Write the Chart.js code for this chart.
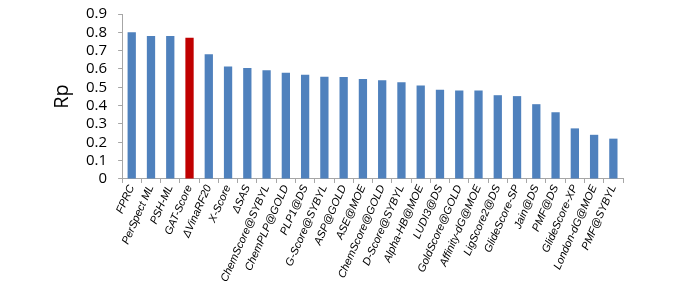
<!DOCTYPE html>
<html>
<head>
<meta charset="utf-8">
<script src="https://cdn.jsdelivr.net/npm/chart.js@4"></script>
<style>
  html, body { margin: 0; padding: 0; background: #fff; }
  #wrap { width: 677px; height: 303px; }
</style>
</head>
<body>
<div id="wrap"><canvas id="barChart"></canvas></div>
<script>
const methods = ['FPRC', 'PerSpect ML', 'PSH-ML', 'GAT-Score', '\u0394VinaRF20', 'X-Score', '\u0394SAS',
  'ChemScore@SYBYL', 'ChemPLP@GOLD', 'PLP1@DS', 'G-Score@SYBYL', 'ASP@GOLD', 'ASE@MOE',
  'ChemScore@GOLD', 'D-Score@SYBYL', 'Alpha-HB@MOE', 'LUDI3@DS', 'GoldScore@GOLD',
  'Affinity-dG@MOE', 'LigScore2@DS', 'GlideScore-SP', 'Jain@DS', 'PMF@DS', 'GlideScore-XP',
  'London-dG@MOE', 'PMF@SYBYL'];
const rpValues = [0.80, 0.78, 0.78, 0.77, 0.68, 0.614, 0.606, 0.593, 0.58, 0.569, 0.558, 0.556, 0.545,
  0.538, 0.527, 0.51, 0.487, 0.483, 0.483, 0.457, 0.452, 0.408, 0.364, 0.276, 0.241, 0.22];
const highlight = 'GAT-Score';

const barColors = methods.map(m => m === highlight ? '#C00000' : '#4F81BD');

const ctx = document.getElementById('barChart').getContext('2d');
new Chart(ctx, {
  type: 'bar',
  data: {
    labels: methods,
    datasets: [{
      label: 'Rp',
      data: rpValues,
      backgroundColor: barColors,
      categoryPercentage: 1,
      barPercentage: 0.43
    }]
  },
  options: {
    responsive: true,
    maintainAspectRatio: false,
    animation: false,
    layout: { padding: { top: 1, right: 54, left: 46, bottom: 19 } },
    plugins: { legend: { display: false }, tooltip: { enabled: false } },
    scales: {
      x: {
        grid: { drawOnChartArea: false, color: '#A6A6A6', tickLength: 4 },
        border: { color: '#A6A6A6' },
        ticks: {
          autoSkip: false,
          maxRotation: 66,
          minRotation: 66,
          padding: 0,
          color: '#000',
          font: { family: 'Liberation Sans, Arial', size: 11, style: 'italic' }
        }
      },
      y: {
        min: 0,
        max: 0.9,
        grid: { drawOnChartArea: false, color: '#A6A6A6', tickLength: 4 },
        border: { color: '#A6A6A6' },
        title: {
          display: true,
          text: 'Rp',
          color: '#000',
          padding: { top: 4, bottom: 1 },
          font: { family: 'Open Sans, DejaVu Sans', size: 20 }
        },
        ticks: {
          stepSize: 0.1,
          autoSkip: false,
          padding: 11,
          color: '#000',
          callback: v => Math.round(v * 10) / 10 === 0 ? '0' : (Math.round(v * 10) / 10).toString(),
          // small lineHeight only trims the top gap; labels are single line
          font: { family: 'Open Sans, DejaVu Sans', size: 15, lineHeight: 0.4 }
        }
      }
    }
  }
});
</script>
</body>
</html>
